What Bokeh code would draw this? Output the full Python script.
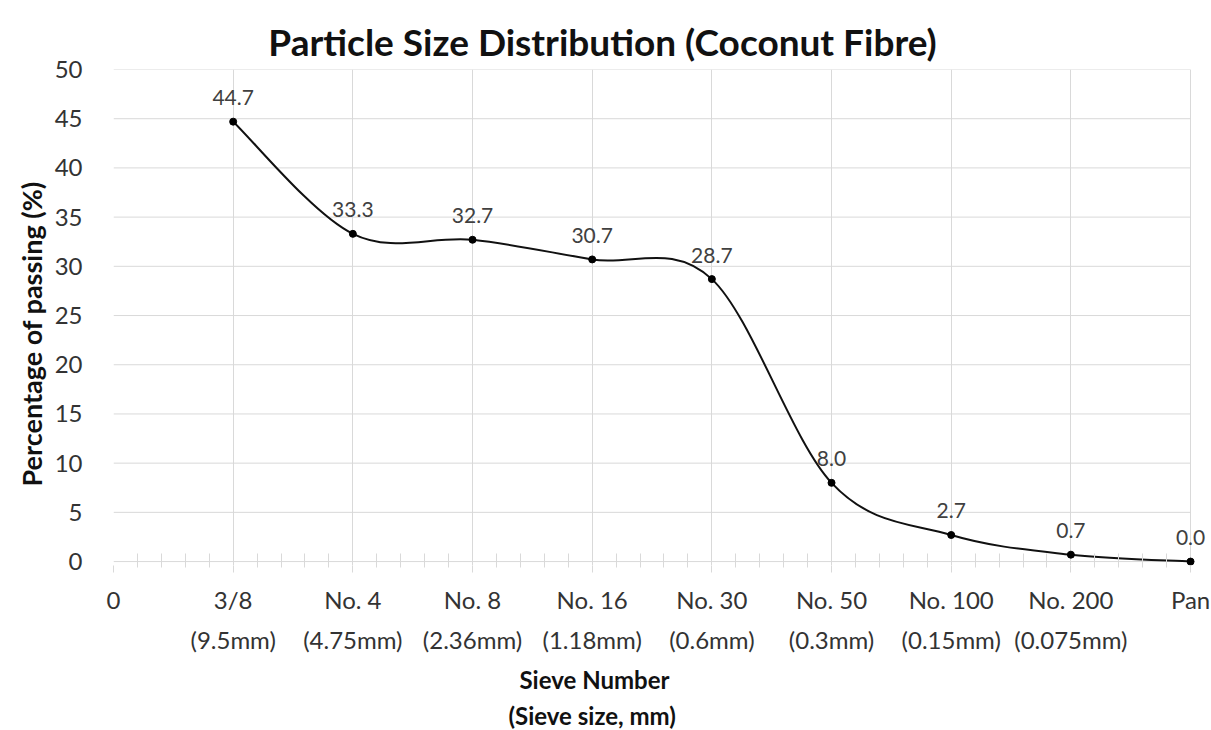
from bokeh.plotting import figure
from bokeh.models import FixedTicker, LabelSet, ColumnDataSource, Range1d, Title
from bokeh.core.properties import value
from bokeh.embed import file_html
from bokeh.resources import INLINE

# ---- data ----
sieve_numbers = ["0", "3/8", "No. 4", "No. 8", "No. 16", "No. 30", "No. 50", "No. 100", "No. 200", "Pan"]
sieve_sizes = ["", "(9.5mm)", "(4.75mm)", "(2.36mm)", "(1.18mm)", "(0.6mm)", "(0.3mm)", "(0.15mm)", "(0.075mm)", ""]
positions = [1, 2, 3, 4, 5, 6, 7, 8, 9]
passing = [44.7, 33.3, 32.7, 30.7, 28.7, 8.0, 2.7, 0.7, 0.0]
y_ticks = [0, 5, 10, 15, 20, 25, 30, 35, 40, 45, 50]

FONT = "Lato"
GRID = "#d9d9d9"
TXT = "#333333"
NB = "\u00a0"

# ---- smoothed curve (Excel-style cubic Bezier through the points) ----
n = len(positions)
bx0, by0, bx1, by1, bcx0, bcy0, bcx1, bcy1 = [], [], [], [], [], [], [], []
for i in range(n - 1):
    xa, ya = positions[i], passing[i]
    xb, yb = positions[i + 1], passing[i + 1]
    xp, yp = (positions[i - 1], passing[i - 1]) if i > 0 else (xa, ya)
    xn, yn = (positions[i + 2], passing[i + 2]) if i + 2 < n else (xb, yb)
    bx0.append(xa); by0.append(ya); bx1.append(xb); by1.append(yb)
    bcx0.append(xa + (xb - xp) / 6.0); bcy0.append(ya + (yb - yp) / 6.0)
    bcx1.append(xb - (xn - xa) / 6.0); bcy1.append(yb - (yn - ya) / 6.0)

x_first, x_last = 0, positions[-1]

p = figure(width=1211, height=730, output_backend="svg", toolbar_location=None,
           x_range=Range1d(x_first, x_last + 0.15), y_range=Range1d(-0.4, y_ticks[-1]),
           min_border_left=113, min_border_right=3, min_border_top=69, min_border_bottom=165)
p.outline_line_color = None
p.background_fill_color = "white"
p.border_fill_color = "white"

# title (trailing non-breaking spaces shift the centred text left, as in the original)
p.title.text = "Particle Size Distribution (Coconut Fibre)" + NB * 13
p.title.align = "center"
p.title.text_font = FONT
p.title.text_font_style = "bold"
p.title.text_font_size = "37px"
p.title.text_color = "#111111"
p.title.standoff = 12

# x axis
p.xaxis.ticker = FixedTicker(ticks=list(range(len(sieve_numbers))),
                             minor_ticks=[i / 5.0 for i in range(0, 5 * x_last + 1) if i % 5 != 0])
p.xaxis.major_label_overrides = {
    i: (f"{a}\n{b}" if b else a) for i, (a, b) in enumerate(zip(sieve_numbers, sieve_sizes))
}
p.xaxis.axis_line_color = None
p.xaxis.major_tick_line_color = GRID
p.xaxis.major_tick_in = 0
p.xaxis.major_tick_out = 7
p.xaxis.minor_tick_line_color = GRID
p.xaxis.minor_tick_in = 12
p.xaxis.minor_tick_out = 2
p.xaxis.major_label_text_font = FONT
p.xaxis.major_label_text_font_size = "24px"
p.xaxis.major_label_text_color = TXT
p.xaxis.major_label_text_line_height = 1.39
p.xaxis.major_label_standoff = 12

# x axis title (two lines, as titles below the axis)
t1 = Title(text="Sieve Number", align="left", offset=406, text_font=FONT,
           text_font_style="bold", text_font_size="24px", text_color="#111111", standoff=12)
t2 = Title(text="(Sieve size, mm)", align="left", offset=395, text_font=FONT,
           text_font_style="bold", text_font_size="24px", text_color="#111111", standoff=-2)
p.add_layout(t1, "below")
p.add_layout(t2, "below")

# y axis
p.yaxis.ticker = FixedTicker(ticks=y_ticks)
p.yaxis.axis_line_color = None
p.yaxis.major_tick_line_color = None
p.yaxis.minor_tick_line_color = None
p.yaxis.major_label_text_font = FONT
p.yaxis.major_label_text_font_size = "24px"
p.yaxis.major_label_text_color = TXT
p.yaxis.major_label_standoff = 25
p.yaxis.axis_label = "Percentage of passing (%)" + NB * 5
p.yaxis.axis_label_text_font = FONT
p.yaxis.axis_label_text_font_style = "bold"
p.yaxis.axis_label_text_font_size = "27px"
p.yaxis.axis_label_text_color = "#111111"
p.yaxis.axis_label_standoff = 4

# grids: vertical from the category ticks, horizontal drawn between first and last category
p.xgrid.ticker = FixedTicker(ticks=list(range(len(sieve_numbers))))
p.xgrid.grid_line_color = GRID
p.ygrid.grid_line_color = None
p.segment(x0=[x_first] * len(y_ticks), x1=[x_last] * len(y_ticks), y0=y_ticks, y1=y_ticks,
          line_color=GRID, line_width=1)

# curve, markers, labels
p.bezier(x0=bx0, y0=by0, x1=bx1, y1=by1, cx0=bcx0, cy0=bcy0, cx1=bcx1, cy1=bcy1,
         line_color="#111111", line_width=2)
src = ColumnDataSource(dict(x=positions, y=passing, label=[f"{v:.1f}" for v in passing]))
p.scatter("x", "y", source=src, size=7, color="#000000")
p.add_layout(LabelSet(x="x", y="y", text="label", source=src, y_offset=24,
                      text_align="center", text_baseline="middle",
                      text_font=value(FONT), text_font_size="21px", text_color="#404040"))

open("out.html", "w").write(file_html(p, INLINE))
